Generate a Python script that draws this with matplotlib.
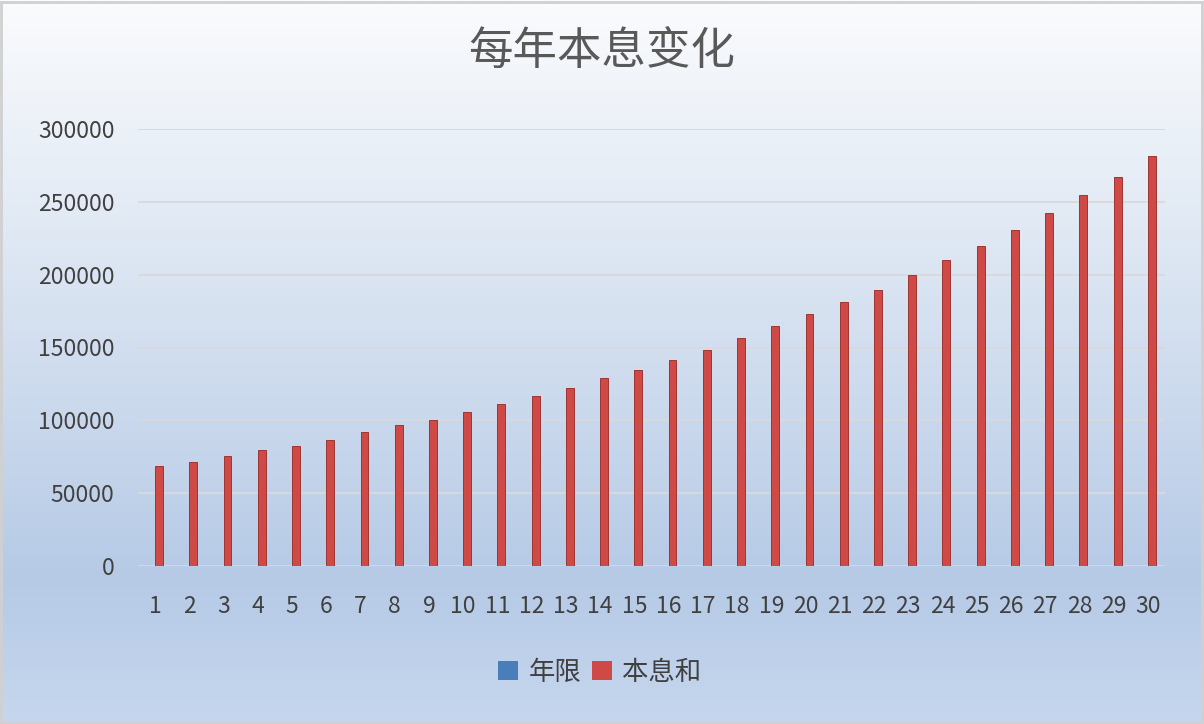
"""每年本息变化 — Excel-style clustered column chart, redrawn in matplotlib."""

import matplotlib
matplotlib.use("Agg")
import matplotlib.pyplot as plt
import numpy as np
from matplotlib.colors import LinearSegmentedColormap
from matplotlib.patches import Patch, Rectangle

plt.rcParams["font.family"] = ["Noto Sans CJK SC", "DejaVu Sans"]

# ---- data -------------------------------------------------------------
years = list(range(1, 31))                      # 年限 series
principal_interest = [                          # 本息和 series
    68800, 71600, 75700, 79800, 82500, 86700, 92100, 96700, 100400, 105800,
    111300, 116800, 122300, 129100, 134600, 141500, 148300, 156600, 164800, 173000,
    181200, 189400, 199500, 210000, 219600, 230500, 242400, 254700, 267000, 281200,
]
x_labels = [str(y) for y in years]
y_ticks = [0, 50000, 100000, 150000, 200000, 250000, 300000]

TITLE = "每年本息变化"
SERIES_NAMES = ["年限", "本息和"]
BLUE = "#4a7ebb"
RED = "#cf4a47"
TEXT = "#404040"

W, H = 1204, 724
fig = plt.figure(figsize=(W / 100, H / 100), dpi=100)

# background gradient (white at top → light blue near the bottom)
bg = fig.add_axes([0, 0, 1, 1], zorder=-10)
cmap = LinearSegmentedColormap.from_list(
    "excel_bg",
    [(0.0, "#fafbfd"), (0.25, "#e6edf6"), (0.8, "#b6cae6"), (1.0, "#c6d6ee")],
)
grad = np.linspace(0, 1, 256).reshape(-1, 1)
bg.imshow(grad, aspect="auto", cmap=cmap, extent=[0, 1, 1, 0])
bg.add_patch(Rectangle((0.001, 0.002), 0.997, 0.995, fill=False,
                       edgecolor="#d0d0d0", linewidth=2.0, transform=bg.transAxes))
bg.set_axis_off()

# plot area in pixel coordinates of the reference
left, right, bottom, top = 138, 1165, 566, 129
ax = fig.add_axes([left / W, 1 - bottom / H, (right - left) / W, (bottom - top) / H])
ax.patch.set_alpha(0)

x = np.arange(len(years))
bar_w = 0.23
ax.bar(x - bar_w / 2, years, bar_w, color=BLUE, zorder=3)
ax.bar(x + bar_w / 2, principal_interest, bar_w, color=RED,
       edgecolor="#9e3532", linewidth=0.7, zorder=3)

ax.set_xlim(-0.5, len(years) - 0.5)
ax.set_ylim(0, 300000)
ax.set_yticks(y_ticks)
ax.set_yticklabels([str(v) for v in y_ticks])
ax.set_xticks(x)
ax.set_xticklabels(x_labels)
ax.tick_params(axis="both", length=0, labelsize=16.5, labelcolor=TEXT)
ax.tick_params(axis="y", pad=17)
ax.tick_params(axis="x", pad=21)

ax.set_axisbelow(True)
ax.yaxis.grid(True, color="#d9d9d9", linewidth=1.3)
for spine in ax.spines.values():
    spine.set_visible(False)

fig.text(0.5, 1 - 52 / H, TITLE, ha="center", va="center",
         fontsize=32, color="#595959")

handles = [Patch(facecolor=BLUE, edgecolor="none"), Patch(facecolor=RED, edgecolor="none")]
fig.legend(handles, SERIES_NAMES, loc="center", bbox_to_anchor=(600 / W, 1 - 672 / H),
           ncol=2, frameon=False, fontsize=19, labelcolor=TEXT,
           handlelength=0.75, handleheight=0.75, handletextpad=0.4, columnspacing=0.4)

fig.savefig("out.png", dpi=100)
